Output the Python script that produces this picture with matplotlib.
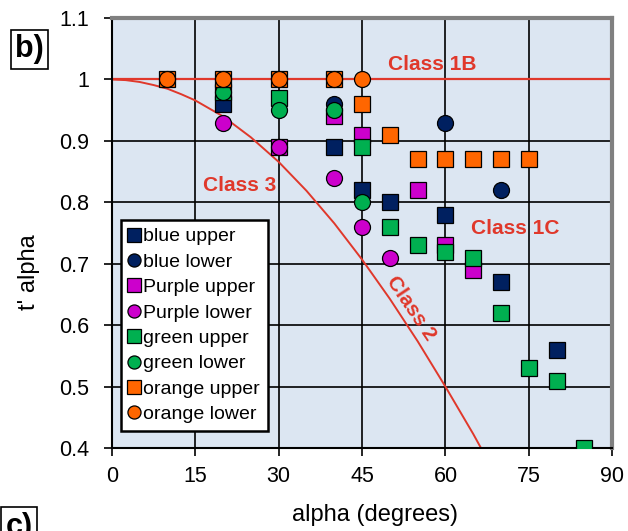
import numpy as np
from matplotlib import pyplot as plt

plt.rcParams['font.family'] = ['Liberation Sans', 'DejaVu Sans']

# data (alpha in degrees, t' alpha)
blue_up_x = [20, 40, 45, 50, 60, 70, 80]
blue_up_y = [0.96, 0.89, 0.82, 0.80, 0.78, 0.67, 0.56]
blue_lo_x = [40, 60, 70]
blue_lo_y = [0.96, 0.93, 0.82]
purple_up_x = [30, 40, 45, 55, 60, 65]
purple_up_y = [0.89, 0.94, 0.91, 0.82, 0.73, 0.69]
purple_lo_x = [20, 30, 40, 45, 50]
purple_lo_y = [0.93, 0.89, 0.84, 0.76, 0.71]
green_up_x = [20, 30, 45, 50, 55, 60, 65, 70, 75, 80, 85]
green_up_y = [0.98, 0.97, 0.89, 0.76, 0.73, 0.72, 0.71, 0.62, 0.53, 0.51, 0.40]
green_lo_x = [20, 30, 40, 45]
green_lo_y = [0.98, 0.95, 0.95, 0.80]
orange_up_x = [10, 20, 30, 40, 45, 50, 55, 60, 65, 70, 75]
orange_up_y = [1, 1, 1, 1, 0.96, 0.91, 0.87, 0.87, 0.87, 0.87, 0.87]
orange_lo_x = [10, 20, 30, 40, 45]
orange_lo_y = [1, 1, 1, 1, 1]

# class 2 boundary curve
class2_x = [0, 2.5, 5, 7.5, 10, 12.5, 15, 20, 25, 30, 35, 40, 45, 50, 55, 60, 65, 66.4]
class2_y = [1, 0.999, 0.996, 0.991, 0.985, 0.976, 0.966, 0.94, 0.906, 0.866, 0.819,
            0.766, 0.707, 0.643, 0.574, 0.5, 0.423, 0.4]

red = '#e0382b'
series = [
    (blue_up_x, blue_up_y, 's', '#002060', 'blue upper'),
    (blue_lo_x, blue_lo_y, 'o', '#002060', 'blue lower'),
    (purple_up_x, purple_up_y, 's', '#cc00cc', 'Purple upper'),
    (purple_lo_x, purple_lo_y, 'o', '#cc00cc', 'Purple lower'),
    (green_up_x, green_up_y, 's', '#00b050', 'green upper'),
    (green_lo_x, green_lo_y, 'o', '#00b050', 'green lower'),
    (orange_up_x, orange_up_y, 's', '#ff6600', 'orange upper'),
    (orange_lo_x, orange_lo_y, 'o', '#ff6600', 'orange lower'),
]

fig = plt.figure(figsize=(6.28, 5.31), dpi=100)
ax = fig.add_axes([0.178, 0.156, 0.797, 0.81])
ax.set_facecolor('#dce6f2')

ax.axhline(1.0, color=red, lw=1.6, zorder=2)
ax.plot(class2_x, class2_y, color=red, lw=1.4, zorder=2)

for x, y, m, c, lab in series:
    ax.plot(x, y, ls='none', marker=m, ms=11.5, mfc=c, mec='black', mew=0.9,
            label=lab, zorder=3)

ax.set_xlim(0, 90)
ax.set_ylim(0.4, 1.1)
ax.set_xticks(np.arange(0, 91, 15))
ax.set_yticks([0.4, 0.5, 0.6, 0.7, 0.8, 0.9, 1.0, 1.1])
ax.set_yticklabels(['0.4', '0.5', '0.6', '0.7', '0.8', '0.9', '1', '1.1'])
ax.grid(True, color='black', lw=1.2, zorder=1)
ax.set_axisbelow(True)
ax.tick_params(labelsize=15.5, direction='out', length=6, width=1.2)
ax.tick_params(axis='y', pad=10)
ax.tick_params(axis='x', pad=7)
for s in ['top', 'right']:
    ax.spines[s].set_color('#808080')
    ax.spines[s].set_linewidth(3)
for s in ['left', 'bottom']:
    ax.spines[s].set_linewidth(1.5)

ax.set_xlabel('alpha (degrees)', fontsize=17)
ax.set_ylabel("t' alpha", fontsize=17)
ax.xaxis.set_label_coords(0.526, -0.13)
ax.yaxis.set_label_coords(-0.144, 0.41)

leg = ax.legend(loc='lower left', bbox_to_anchor=(0.018, 0.04), fontsize=14,
                markerscale=0.82, handlelength=0.6, handletextpad=0.15,
                labelspacing=0.4, borderpad=0.4, borderaxespad=0,
                fancybox=False, framealpha=1, edgecolor='black')
leg.get_frame().set_linewidth(1.8)

ax.text(57.6, 1.025, 'Class 1B', color=red, fontsize=15, fontweight='bold', ha='center', va='center')
ax.text(23, 0.827, 'Class 3', color=red, fontsize=15, fontweight='bold', ha='center', va='center')
ax.text(72.5, 0.757, 'Class 1C', color=red, fontsize=15, fontweight='bold', ha='center', va='center')
ax.text(53.8, 0.627, 'Class 2', color=red, fontsize=15, fontweight='bold', ha='center', va='center',
        rotation=-56)

box = dict(boxstyle='square,pad=0.15', fc='white', ec='black', lw=1.2)
fig.text(0.047, 0.907, 'b)', fontsize=22, fontweight='bold', ha='center', va='center', bbox=box)
fig.text(0.03, 0.008, 'c)', fontsize=22, fontweight='bold', ha='center', va='center', bbox=box)

plt.savefig('out.png', dpi=100)
plt.close()
